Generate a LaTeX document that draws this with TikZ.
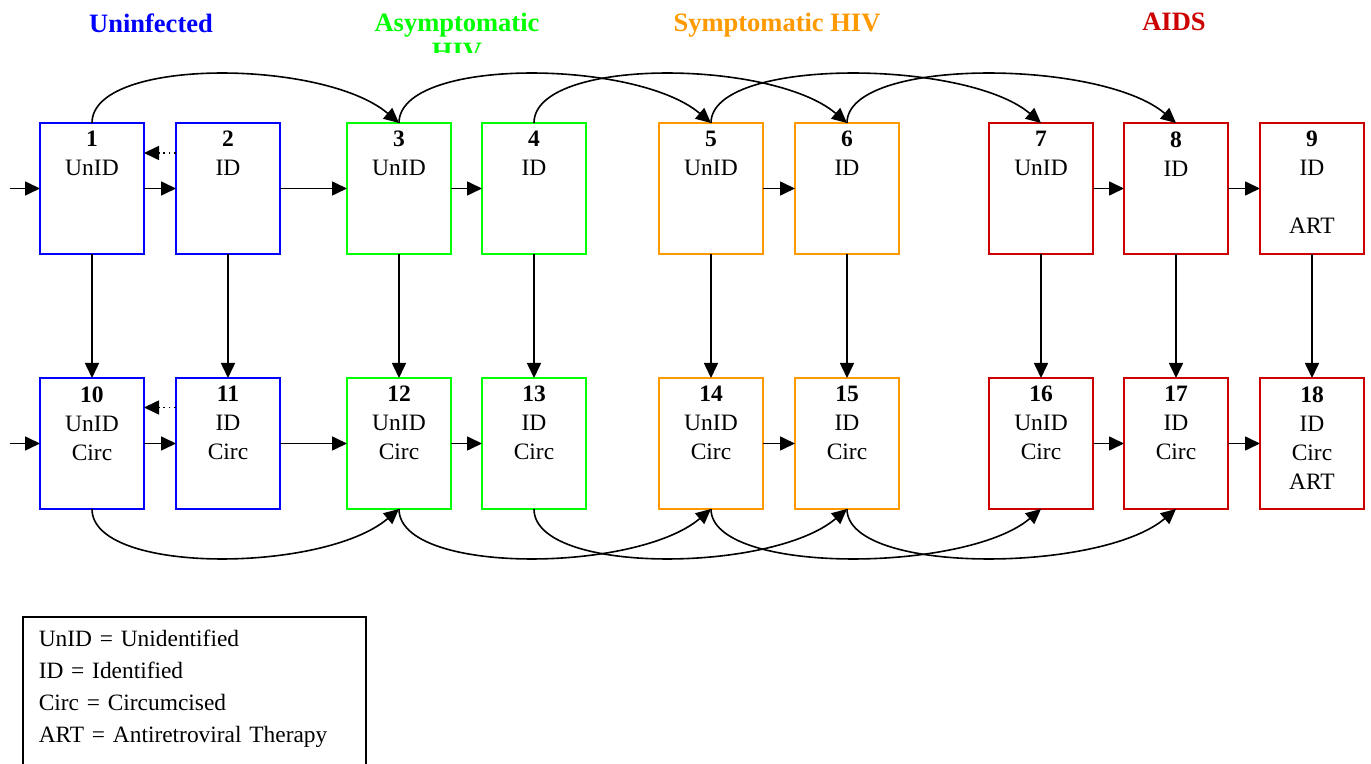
\documentclass[tikz,border=0pt]{standalone}
\usepackage{fontspec}
\setmainfont{Liberation Serif}
\usetikzlibrary{arrows.meta,positioning}
\definecolor{Uninf}{RGB}{0,0,255}
\definecolor{Asym}{RGB}{0,255,0}
\definecolor{Sympt}{RGB}{255,153,0}
\definecolor{Aids}{RGB}{204,0,0}

\begin{document}
\begin{tikzpicture}[
  x=0.5pt, y=-0.5pt,
  node distance=62pt and 16pt,
  stage/.style={
    rectangle,
    draw=#1,
    line width=1pt,
    minimum width=52pt,
    minimum height=65.5pt,
    inner sep=0pt,
    outer sep=0pt
  },
  tag/.style={
    anchor=north,
    align=center,
    inner sep=4pt,
    font=\fontsize{11.75}{14.5}\selectfont
  },
  heading/.style={
    anchor=north,
    inner sep=0pt,
    align=center,
    font=\fontsize{13.25}{14.5}\selectfont\bfseries
  },
  legend/.style={
    draw,
    line width=0.75pt,
    anchor=north west,
    align=left,
    text width=155.5pt,
    inner xsep=8pt,
    inner ysep=6.5pt,
    font=\fontsize{11.7}{16}\selectfont
  },
  arrow/.style={-{Triangle[length=7.5pt,width=7pt]}, line width=0.8pt},
  back/.style={arrow, dotted}
]
\useasboundingbox (0,0) rectangle (1371,764);
\clip (0,0) rectangle (1371,764);

% stage headings
\node[heading, text=Uninf] (hUninf) at (151,13) {Uninfected};
\begin{scope}
  \clip (300,0) rectangle (620,53);
  \node[heading, text=Asym] (hAsym) at (457,13) {Asymptomatic\\HIV};
\end{scope}
\node[heading, text=Sympt] (hSympt) at (777,13) {Symptomatic HIV};
\node[heading, text=Aids] (hAids) at (1174,13) {AIDS};

% top row: not circumcised
\node[stage=Uninf, label={[tag]north:{\textbf{1}\\UnID}}] (n1) at (92,188.5) {};
\node[stage=Uninf, right=of n1, label={[tag]north:{\textbf{2}\\ID}}] (n2) {};
\node[stage=Asym, right=33.5pt of n2, label={[tag]north:{\textbf{3}\\UnID}}] (n3) {};
\node[stage=Asym, right=15.5pt of n3, label={[tag]north:{\textbf{4}\\ID}}] (n4) {};
\node[stage=Sympt, right=36.5pt of n4, label={[tag]north:{\textbf{5}\\UnID}}] (n5) {};
\node[stage=Sympt, right=of n5, label={[tag]north:{\textbf{6}\\ID}}] (n6) {};
\node[stage=Aids, right=45pt of n6, label={[tag]north:{\textbf{7}\\UnID}}] (n7) {};
\node[stage=Aids, right=15.5pt of n7, label={[tag]north:{\textbf{8}\\ID}}] (n8) {};
\node[stage=Aids, right=of n8, label={[tag]north:{\textbf{9}\\ID\\[14.5pt]ART}}] (n9) {};

% bottom row: circumcised
\node[stage=Uninf, below=of n1, label={[tag]north:{\textbf{10}\\UnID\\Circ}}] (n10) {};
\node[stage=Uninf, below=of n2, label={[tag]north:{\textbf{11}\\ID\\Circ}}] (n11) {};
\node[stage=Asym, below=of n3, label={[tag]north:{\textbf{12}\\UnID\\Circ}}] (n12) {};
\node[stage=Asym, below=of n4, label={[tag]north:{\textbf{13}\\ID\\Circ}}] (n13) {};
\node[stage=Sympt, below=of n5, label={[tag]north:{\textbf{14}\\UnID\\Circ}}] (n14) {};
\node[stage=Sympt, below=of n6, label={[tag]north:{\textbf{15}\\ID\\Circ}}] (n15) {};
\node[stage=Aids, below=of n7, label={[tag]north:{\textbf{16}\\UnID\\Circ}}] (n16) {};
\node[stage=Aids, below=of n8, label={[tag]north:{\textbf{17}\\ID\\Circ}}] (n17) {};
\node[stage=Aids, below=of n9, label={[tag]north:{\textbf{18}\\ID\\Circ\\ART}}] (n18) {};

\coordinate[left=15pt of n1] (src1);
\coordinate[left=15pt of n10] (src10);

% entries and identification
\draw[arrow] (src1) -- (n1);
\draw[arrow] (src10) -- (n10);
\foreach \a/\b in {1/2,2/3,3/4,5/6,7/8,8/9,10/11,11/12,12/13,14/15,16/17,17/18}
  \draw[arrow] (n\a) -- (n\b);
\draw[back] ([yshift=17.75pt]n2.west) -- ([yshift=17.75pt]n1.east);
\draw[back] ([yshift=18pt]n11.west) -- ([yshift=18pt]n10.east);

% circumcision
\foreach \a/\b in {1/10,2/11,3/12,4/13,5/14,6/15,7/16,8/17,9/18}
  \draw[arrow] (n\a) -- (n\b);

% disease progression
\foreach \a/\b in {1/3,3/5,4/6,5/7,6/8}
  \draw[arrow] (n\a.north) .. controls +(0,-66) and +(-75,-64) .. (n\b.north);
\foreach \a/\b in {10/12,12/14,13/15,14/16,15/17}
  \draw[arrow] (n\a.south) .. controls +(0,66) and +(-75,64) .. (n\b.south);

% key
\node[legend] (key) at (22,616) {UnID = Unidentified\\ID = Identified\\Circ = Circumcised\\ART = Antiretroviral Therapy\\ \mbox{}};
\end{tikzpicture}
\end{document}
